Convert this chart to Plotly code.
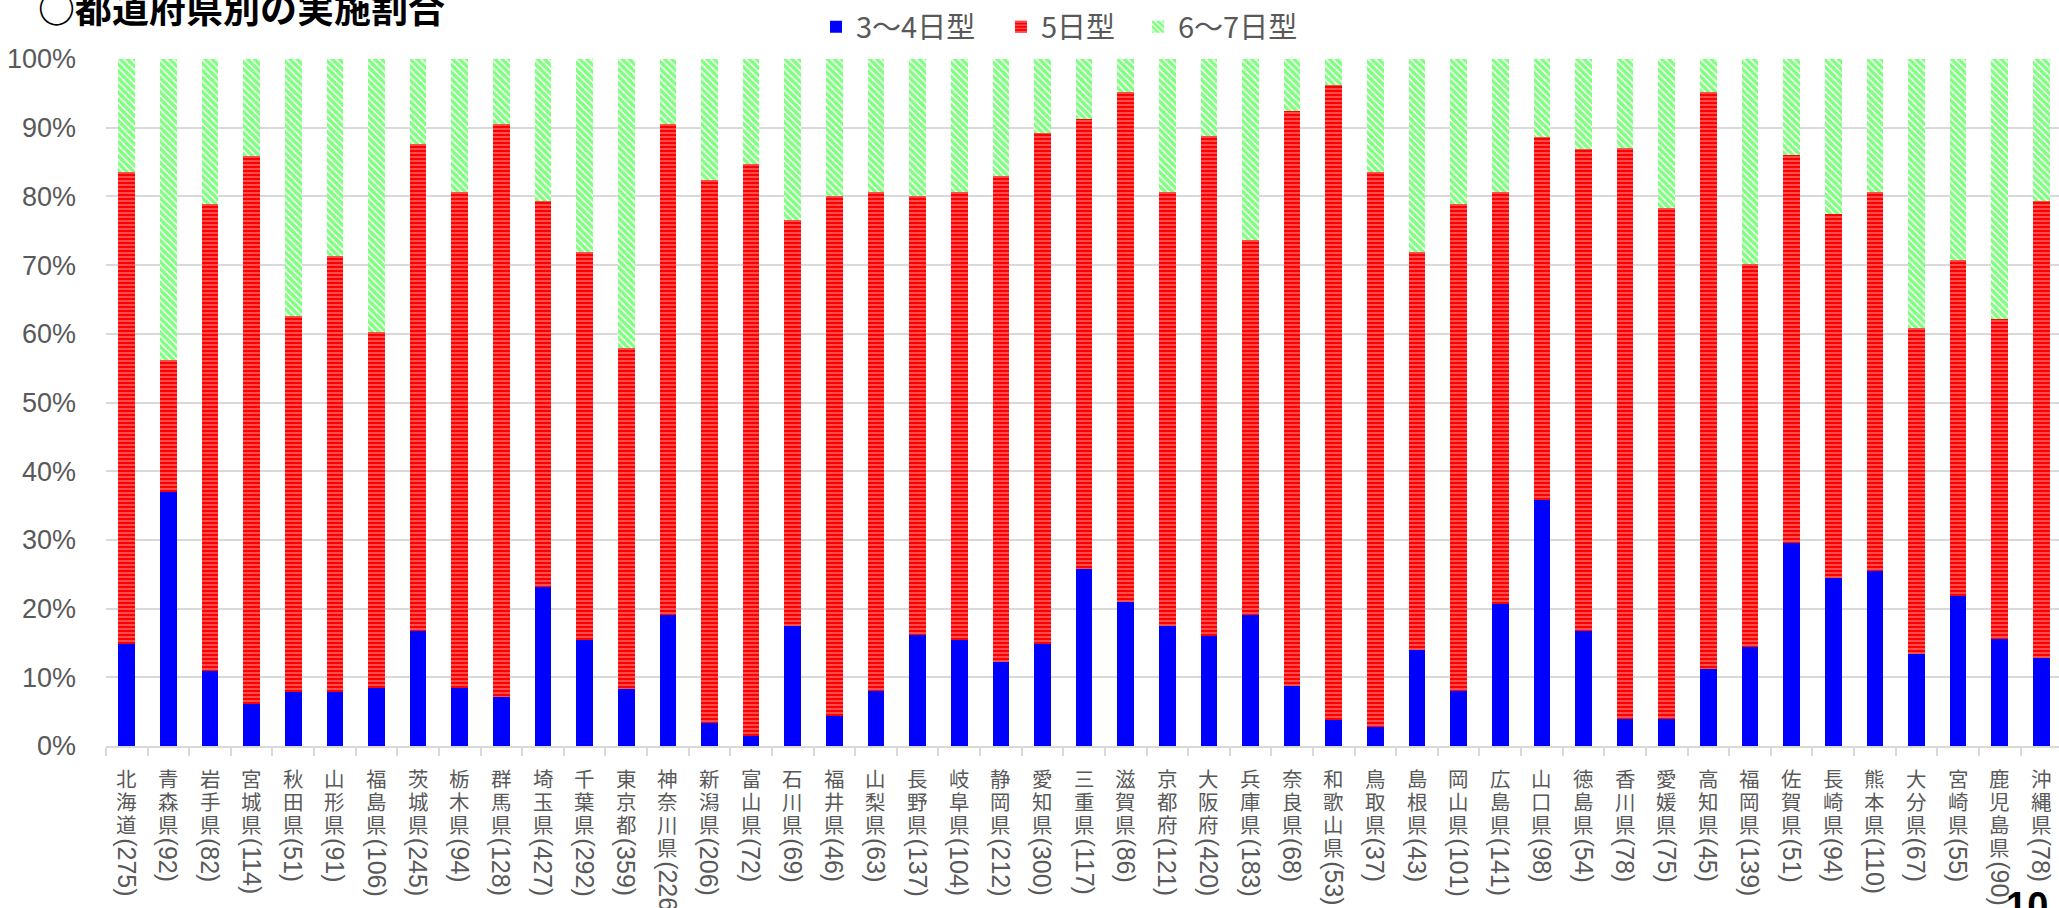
import plotly.graph_objects as go

# ---------------- data ----------------
prefectures = ['北海道', '青森県', '岩手県', '宮城県', '秋田県', '山形県', '福島県', '茨城県', '栃木県', '群馬県',
               '埼玉県', '千葉県', '東京都', '神奈川県', '新潟県', '富山県', '石川県', '福井県', '山梨県', '長野県',
               '岐阜県', '静岡県', '愛知県', '三重県', '滋賀県', '京都府', '大阪府', '兵庫県', '奈良県', '和歌山県',
               '鳥取県', '島根県', '岡山県', '広島県', '山口県', '徳島県', '香川県', '愛媛県', '高知県', '福岡県',
               '佐賀県', '長崎県', '熊本県', '大分県', '宮崎県', '鹿児島県', '沖縄県']
counts = [275, 92, 82, 114, 51, 91, 106, 245, 94, 128,
          427, 292, 359, 226, 206, 72, 69, 46, 63, 137,
          104, 212, 300, 117, 86, 121, 420, 183, 68, 53,
          37, 43, 101, 141, 98, 54, 78, 75, 45, 139,
          51, 94, 110, 67, 55, 90, 78]
share_3_4 = [14.9, 37.0, 10.9, 6.1, 7.9, 7.8, 8.5, 16.7, 8.5, 7.1,
             23.2, 15.4, 8.3, 19.0, 3.3, 1.4, 17.4, 4.4, 8.0, 16.1,
             15.4, 12.3, 14.8, 25.7, 21.0, 17.4, 16.0, 19.1, 8.8, 3.8,
             2.7, 14.0, 8.0, 20.6, 35.8, 16.7, 3.9, 4.0, 11.2, 14.4,
             29.5, 24.5, 25.5, 13.4, 21.8, 15.6, 12.8]
share_5 = [68.6, 19.2, 68.0, 79.8, 54.7, 63.5, 51.7, 70.9, 72.1, 83.5,
           56.1, 56.5, 49.6, 71.6, 79.1, 83.3, 59.2, 75.7, 72.6, 64.0,
           65.2, 70.7, 74.4, 65.5, 74.2, 63.2, 72.8, 54.5, 83.7, 92.4,
           80.9, 57.9, 70.9, 60.0, 52.9, 70.2, 83.2, 74.3, 84.0, 55.8,
           56.5, 53.0, 55.1, 47.5, 49.0, 46.5, 66.6]
share_6_7 = [16.5, 43.8, 21.1, 14.1, 37.4, 28.7, 39.8, 12.4, 19.4, 9.4,
             20.7, 28.1, 42.1, 9.4, 17.6, 15.3, 23.4, 19.9, 19.4, 19.9,
             19.4, 17.0, 10.8, 8.8, 4.8, 19.4, 11.2, 26.4, 7.5, 3.8,
             16.4, 28.1, 21.1, 19.4, 11.3, 13.1, 12.9, 21.7, 4.8, 29.8,
             14.0, 22.5, 19.4, 39.1, 29.2, 37.9, 20.6]
series_names = ['3〜4日型', '5日型', '6〜7日型']
y_ticks = [0, 10, 20, 30, 40, 50, 60, 70, 80, 90, 100]
y_tick_labels = ['0%', '10%', '20%', '30%', '40%', '50%', '60%', '70%', '80%', '90%', '100%']
title_text = '○都道府県別の実施割合'
page_no = '10'

# ---------------- layout geometry ----------------
W, H = 2059, 908
ML, MR, MT, MB = 106, 0, 59, 162
PLOT_H = H - MT - MB
STEP = 41.62
x_max = -0.5 + (W - ML - MR) / STEP


def py(px):
    """pixel y (from top) -> paper y"""
    return (H - MB - px) / PLOT_H


def px_x(px):
    return (px - ML) / (W - ML - MR)


GRAY = '#595959'
CJK = 'Noto Sans CJK JP'
LAT_CJK = 'Liberation Sans, Noto Sans CJK JP'

fig = go.Figure()
fig.add_bar(x=prefectures, y=share_3_4, name=series_names[0], legend='legend',
            marker=dict(color='#0000FF', line=dict(width=0)))
fig.add_bar(x=prefectures, y=share_5, name=series_names[1], legend='legend2',
            marker=dict(color='#FF0000', line=dict(width=0),
                        pattern=dict(shape='-', fgcolor='#FFFFFF', bgcolor='#FF0000',
                                     size=4, solidity=0.3)))
fig.add_bar(x=prefectures, y=share_6_7, name=series_names[2], legend='legend3',
            marker=dict(color='#FFFFFF', line=dict(width=0),
                        pattern=dict(shape='\\', fgcolor='#00FF00', bgcolor='#FFFFFF',
                                     size=5, solidity=0.7)))

annotations = []
CHAR_Y0 = 779      # centre of first character of each vertical label (px)
PITCH = 23         # vertical pitch between stacked characters (px)
for p, n in zip(prefectures, counts):
    for k, ch in enumerate(p):
        annotations.append(dict(
            x=p, xref='x', y=py(CHAR_Y0 + k * PITCH), yref='paper',
            yanchor='middle', xanchor='center', text=ch, showarrow=False, borderpad=0,
            font=dict(family=LAT_CJK, size=20.5, color=GRAY)))
    annotations.append(dict(
        x=p, xref='x', y=py(CHAR_Y0 + (len(p) - 1) * PITCH + 12), yref='paper',
        yanchor='top', xanchor='center', text=f'({n})', textangle=90, borderpad=0,
        showarrow=False, font=dict(family='Liberation Sans', size=25, color=GRAY)))

annotations.append(dict(x=px_x(36), xref='paper', y=py(7), yref='paper',
                        xanchor='left', yanchor='middle', text=f'<b>{title_text}</b>',
                        showarrow=False, font=dict(family=CJK, size=37, color='#000000')))
annotations.append(dict(x=px_x(2004), xref='paper', y=py(883), yref='paper',
                        xanchor='left', yanchor='top', text=f'<b>{page_no}</b>',
                        showarrow=False, font=dict(family='Liberation Sans', size=38, color='#000000')))

legend_common = dict(orientation='h', xref='container', yref='container',
                     y=1 - 27 / H, xanchor='left', yanchor='middle',
                     font=dict(family=CJK, size=29, color=GRAY),
                     itemwidth=30, bgcolor='rgba(0,0,0,0)', borderwidth=0)
fig.update_layout(
    width=W, height=H,
    margin=dict(l=ML, r=MR, t=MT, b=MB, pad=0, autoexpand=False),
    barmode='stack', bargap=0.6,
    plot_bgcolor='#FFFFFF', paper_bgcolor='#FFFFFF',
    showlegend=True,
    legend=dict(legend_common, x=816 / W),
    legend2=dict(legend_common, x=1001 / W),
    legend3=dict(legend_common, x=1138 / W),
    annotations=annotations,
)
fig.update_xaxes(
    range=[-0.5, x_max], showticklabels=False,
    ticks='outside', tickson='boundaries', ticklen=8, tickcolor='#D9D9D9', tickwidth=2,
    showline=True, linecolor='#D9D9D9', linewidth=2,
    showgrid=False, zeroline=False,
)
fig.update_yaxes(
    range=[0, 100], tickvals=y_ticks, ticktext=y_tick_labels,
    tickfont=dict(family='Liberation Sans', size=27, color=GRAY),
    showgrid=True, gridcolor='#D9D9D9', gridwidth=2, zeroline=False,
    ticks='', ticklabelstandoff=29,
)

fig.write_html('out.html', config={'displayModeBar': False},
               post_script="document.body.style.margin='0';document.body.style.overflow='hidden';")
